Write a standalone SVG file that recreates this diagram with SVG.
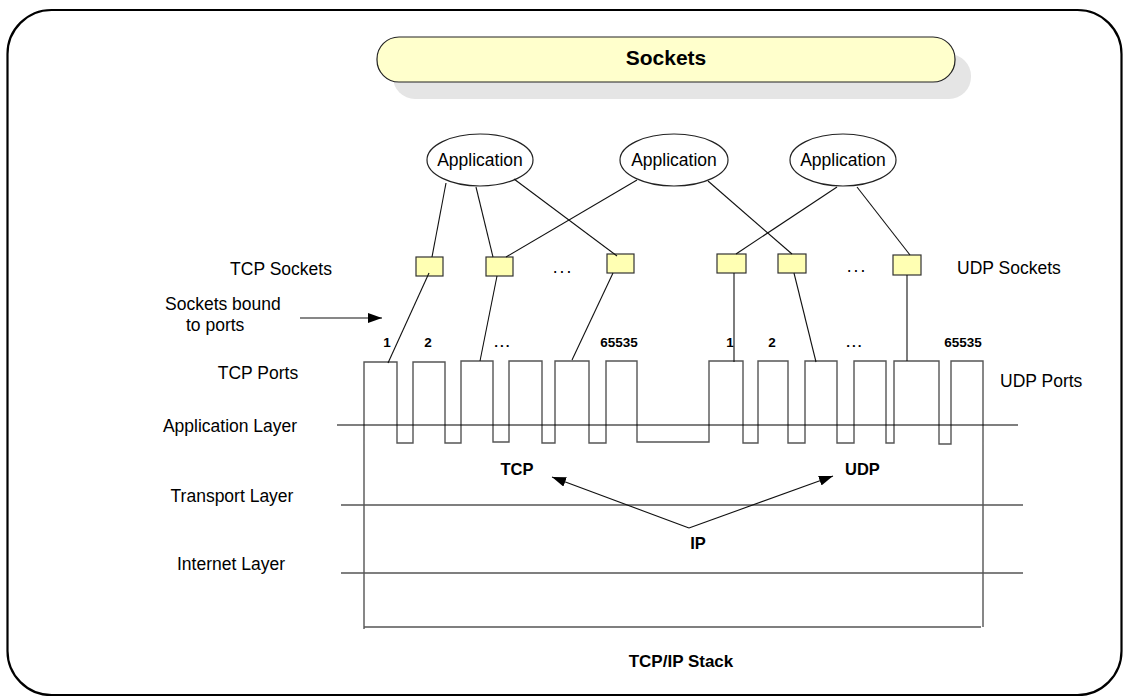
<svg xmlns="http://www.w3.org/2000/svg" width="1126" height="697" viewBox="0 0 1126 697">
<defs>
<style>
.t{font-family:"Liberation Sans",Arial,sans-serif;font-size:17.5px;fill:#000}
.b{font-family:"Liberation Sans",Arial,sans-serif;font-weight:bold;fill:#000}
.n{font-family:"Liberation Sans",Arial,sans-serif;font-weight:bold;font-size:13.5px;fill:#000}
.app{fill:#fff;stroke:#222;stroke-width:1.2}
.sock{fill:#ffffb3;stroke:#333;stroke-width:1.2}
.ln{stroke:#111;stroke-width:1.1;fill:none}
.gl{stroke:#555;stroke-width:1.4;fill:none}
</style>
<marker id="ah" viewBox="0 0 14 10" refX="14" refY="5" markerWidth="14" markerHeight="10" markerUnits="userSpaceOnUse" orient="auto">
<path d="M0,0 L14,5 L0,10 Z" fill="#000"/>
</marker>
</defs>
<rect x="0" y="0" width="1126" height="697" fill="#fff"/>
<rect x="7.5" y="10" width="1114" height="685" rx="44" fill="none" stroke="#000" stroke-width="2.2"/>

<g id="title">
<rect x="393" y="54" width="578" height="45" rx="22" fill="#e5e5e5"/>
<rect x="377" y="37" width="578" height="45" rx="22" fill="#ffffcc" stroke="#222" stroke-width="1.2"/>
<text class="b" x="666" y="65" font-size="21" text-anchor="middle">Sockets</text>
</g>

<g id="app1"><ellipse class="app" cx="480" cy="160" rx="53" ry="26"/><text class="t" x="480" y="166" text-anchor="middle">Application</text></g>
<g id="app2"><ellipse class="app" cx="674" cy="160" rx="54" ry="26"/><text class="t" x="674" y="166" text-anchor="middle">Application</text></g>
<g id="app3"><ellipse class="app" cx="843" cy="160" rx="53" ry="26"/><text class="t" x="843" y="166" text-anchor="middle">Application</text></g>

<g id="tcp-socket-1"><rect class="sock" x="416" y="257" width="27" height="19"/></g>
<g id="tcp-socket-2"><rect class="sock" x="486" y="257" width="27" height="19"/></g>
<g id="tcp-socket-3"><rect class="sock" x="607" y="254" width="27" height="19"/></g>
<g id="udp-socket-1"><rect class="sock" x="717" y="254" width="29" height="19"/></g>
<g id="udp-socket-2"><rect class="sock" x="778" y="254" width="28" height="19"/></g>
<g id="udp-socket-3"><rect class="sock" x="893" y="255" width="28" height="20"/></g>

<g id="labels">
<text class="t" x="281" y="275" text-anchor="middle">TCP Sockets</text>
<text class="t" x="957" y="274">UDP Sockets</text>
<text class="t" x="165" y="310">Sockets bound</text>
<text class="t" x="186" y="331">to ports</text>
<text class="t" x="258" y="379" text-anchor="middle">TCP Ports</text>
<text class="t" x="1000" y="387">UDP Ports</text>
<text class="t" x="230" y="432" text-anchor="middle">Application Layer</text>
<text class="t" x="232" y="502" text-anchor="middle">Transport Layer</text>
<text class="t" x="231" y="570" text-anchor="middle">Internet Layer</text>
<text class="t" x="563" y="273" text-anchor="middle" letter-spacing="2">...</text>
<text class="t" x="857" y="272" text-anchor="middle" letter-spacing="2">...</text>
<text class="n" x="387" y="347" text-anchor="middle">1</text>
<text class="n" x="428" y="347" text-anchor="middle">2</text>
<text class="n" x="503" y="347" text-anchor="middle" letter-spacing="2">...</text>
<text class="n" x="619" y="347" text-anchor="middle">65535</text>
<text class="n" x="730" y="347" text-anchor="middle">1</text>
<text class="n" x="772" y="347" text-anchor="middle">2</text>
<text class="n" x="855" y="347" text-anchor="middle" letter-spacing="2">...</text>
<text class="n" x="963" y="347" text-anchor="middle">65535</text>
<text class="b" x="517" y="475" font-size="16.5" text-anchor="middle">TCP</text>
<text class="b" x="845" y="475" font-size="16.5">UDP</text>
<text class="b" x="698" y="549" font-size="16.5" text-anchor="middle">IP</text>
<text class="b" x="681" y="667" font-size="17" text-anchor="middle">TCP/IP Stack</text>
</g>

<g id="stack">
<path class="gl" d="M364,629 V362 H397 V443 H413 V362 H445 V443 H461 V361 H493 V442 H509 V361 H542 V443 H555 V361 H589 V443 H606 V361 H637 V442 H709 V361 H743 V443 H758 V361 H788 V443 H805 V361 H837 V443 H854 V361 H886 V443 H894 V361 H939 V444 H951 V361 H983 V627"/>
<line class="gl" x1="364" y1="627" x2="981" y2="627"/>
<line x1="337" y1="425" x2="1018" y2="425" stroke="#000" stroke-width="1.2"/>
<line class="gl" x1="341" y1="505" x2="1023" y2="505"/>
<line class="gl" x1="341" y1="573" x2="1023" y2="573"/>
</g>

<g id="connectors">
<line class="ln" x1="446" y1="183" x2="432" y2="257"/>
<line class="ln" x1="476" y1="187" x2="493" y2="257"/>
<line class="ln" x1="514" y1="179" x2="617" y2="256"/>
<line class="ln" x1="637" y1="180" x2="506" y2="257"/>
<line class="ln" x1="708" y1="181" x2="792" y2="254"/>
<line class="ln" x1="837" y1="187" x2="736" y2="254"/>
<line class="ln" x1="857" y1="187" x2="910" y2="255"/>
<line class="ln" x1="429" y1="273" x2="388" y2="363"/>
<line class="ln" x1="497" y1="276" x2="480" y2="361"/>
<line class="ln" x1="613" y1="273" x2="572" y2="360"/>
<line class="ln" x1="734" y1="273" x2="734" y2="362"/>
<line class="ln" x1="794" y1="273" x2="816" y2="362"/>
<line class="ln" x1="907" y1="275" x2="907" y2="361"/>
<line class="ln" x1="300" y1="318" x2="382" y2="318" marker-end="url(#ah)"/>
<line class="ln" x1="689" y1="528" x2="552" y2="477" marker-end="url(#ah)"/>
<line class="ln" x1="689" y1="528" x2="833" y2="476" marker-end="url(#ah)"/>
</g>
</svg>
